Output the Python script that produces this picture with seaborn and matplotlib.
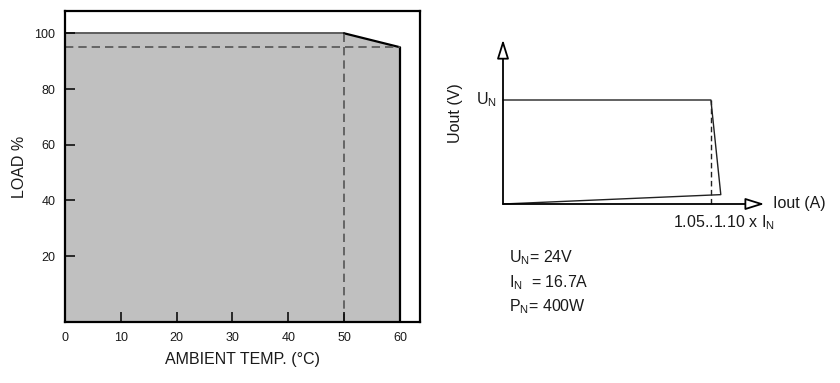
import matplotlib
matplotlib.use("Agg")
import matplotlib.pyplot as plt
import seaborn as sns
import pandas as pd

# derating curve (left)
temp = [0, 50, 60]
load = [100, 100, 95]
x_ticks = [0, 10, 20, 30, 40, 50, 60]
y_ticks = [20, 40, 60, 80, 100]

# U/I characteristic (right), current in units of I_N, voltage in units of U_N
i_curve = [0, 1.05, 1.10, 0]
u_curve = [1.0, 1.0, 0.09, 0]
i_knee = 1.05
spec_lines = [r"U$_\mathregular{N}$= 24V", r"I$_\mathregular{N}$  = 16.7A", r"P$_\mathregular{N}$= 400W"]

sns.set_theme(style="white")
plt.rcParams["font.family"] = ["Liberation Sans", "DejaVu Sans"]
plt.rcParams["text.color"] = "#1a1a1a"
plt.rcParams["mathtext.fontset"] = "custom"
plt.rcParams["mathtext.rm"] = "Liberation Sans"

fig = plt.figure(figsize=(8.4, 3.83), dpi=100)
W, H = 840, 383

# ---------- left panel ----------
ax = fig.add_axes([65 / W, 1 - 322 / H, (420 - 65) / W, (322 - 11) / H])
ax.set_axisbelow(False)
ybot, ytop = -3.6, 108
ax.set_xlim(0, 63.6)
ax.set_ylim(ybot, ytop)

df = pd.DataFrame({"temp": temp, "load": load})
ax.fill_between(df["temp"], df["load"], ybot, color="#c0c0c0", lw=0, zorder=0)
sns.lineplot(data=df.iloc[:2], x="temp", y="load", ax=ax, color="#333333", lw=1.1)
sns.lineplot(data=df.iloc[1:], x="temp", y="load", ax=ax, color="black", lw=1.6)
ax.vlines(temp[-1], ybot, load[-1], color="black", lw=1.6)
ax.hlines(load[-1], 0, temp[-1], color="#555555", lw=1.2, linestyles=(0, (5, 3)))
ax.vlines(temp[1], ybot, load[1], color="#555555", lw=1.2, linestyles=(0, (5, 3)))

for s in ax.spines.values():
    s.set_color("black")
    s.set_linewidth(1.6)
ax.set_xticks(x_ticks)
ax.set_yticks(y_ticks)
ax.tick_params(bottom=True, left=True, direction="in", length=7, width=1.1, color="black",
               labelsize=9, labelcolor="#1a1a1a", pad=7)
ax.set_xlabel("AMBIENT TEMP. (°C)", fontsize=11.5, labelpad=6, color="#1a1a1a")
ax.set_ylabel("LOAD %", fontsize=11.5, labelpad=5, color="#1a1a1a")

# ---------- right panel ----------
ax2 = fig.add_axes([430 / W, 0, 400 / W, 1])
ox, oy, sx, sy = 503, 204, 198, 104
ax2.set_xlim((430 - ox) / sx, (830 - ox) / sx)
ax2.set_ylim((oy - H) / sy, oy / sy)
ax2.axis("off")

sns.lineplot(x=i_curve, y=u_curve, ax=ax2, sort=False, estimator=None, color="#222222", lw=1.0)
ax2.vlines(i_knee, 0, 1, color="#222222", lw=1.0, linestyles=(0, (4, 2.5)))

arrow = dict(arrowstyle="-|>,head_length=1.15,head_width=0.36", fc="white", ec="black",
             lw=1.3, mutation_scale=10, shrinkA=0, shrinkB=0)
ax2.annotate("", xy=(0, 1.58), xytext=(0, 0), arrowprops=arrow)
ax2.annotate("", xy=(1.32, 0), xytext=(0, 0), arrowprops=arrow)

fs = 11.5
ax2.text(-0.03, 1.0, r"U$_\mathregular{N}$", ha="right", va="center", fontsize=fs)
ax2.text(-0.24, 0.875, "Uout (V)", rotation=90, ha="center", va="center", fontsize=fs)
ax2.text(1.364, 0.0, "Iout (A)", ha="left", va="center", fontsize=fs)
ax2.text(1.117, -0.18, r"1.05..1.10 x I$_\mathregular{N}$", ha="center", va="center", fontsize=fs)
for k, line in enumerate(spec_lines):
    ax2.text(0.03, -0.52 - 0.235 * k, line, ha="left", va="center", fontsize=fs)

fig.savefig("out.png", dpi=100, facecolor="white")
